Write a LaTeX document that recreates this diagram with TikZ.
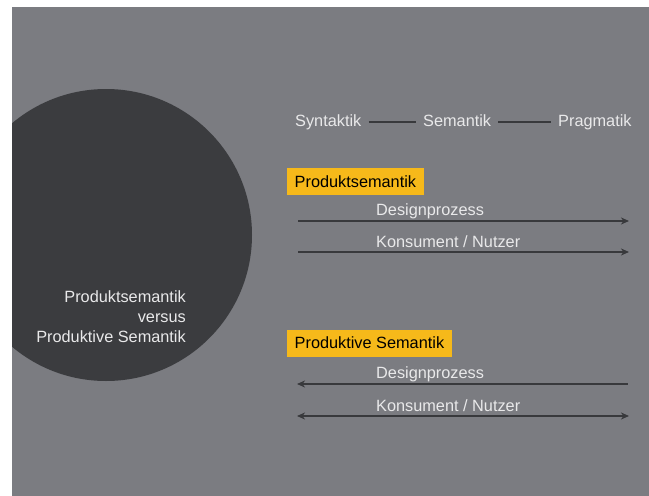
\documentclass[tikz,border=0pt]{standalone}
\usepackage{fontspec}
\setmainfont{Liberation Sans}
\usetikzlibrary{arrows.meta}
\definecolor{slate}{HTML}{7B7C81}
\definecolor{disc}{HTML}{3B3C3F}
\definecolor{pale}{HTML}{E9E9EA}
\definecolor{amber}{HTML}{F6B91A}
\definecolor{ink}{HTML}{38393C}
\begin{document}
\begin{tikzpicture}[x=1pt,y=-1pt,
  lbl/.style={font=\fontsize{16.3}{20}\selectfont, text=pale, inner sep=0pt},
  tag/.style={font=\fontsize{16.3}{18}\selectfont, fill=amber, text=black,
    inner xsep=7.5pt, inner ysep=0pt, minimum height=27pt, anchor=west},
  tie/.style={draw=ink, line width=1.6pt},
  flow/.style={draw=ink, line width=1.5pt},
  tip/.tip={Stealth[length=8pt,width=7pt,inset=2.5pt]}
]
\useasboundingbox (0,0) rectangle (649,496);
\fill[white] (0,0) rectangle (649,496);
\fill[slate] (12,7) rectangle (649,496);
% dark disc, cut off at the panel edge
\begin{scope}
  \clip (12,7) rectangle (649,496);
  \fill[disc] (106,235) circle[radius=146pt];
\end{scope}
\node[lbl, align=right, anchor=east] (title) at (186,317)
  {Produktsemantik\\versus\\Produktive Semantik};

% semiotic chain
\node[lbl, anchor=west, text height=12pt, text depth=3.5pt] (syn) at (295,122) {Syntaktik};
\node[lbl, anchor=west, text height=12pt, text depth=3.5pt] (sem) at (423,122) {Semantik};
\node[lbl, anchor=west, text height=12pt, text depth=3.5pt] (prag) at (558,122) {Pragmatik};
\draw[tie] ([xshift=7pt]syn.east) -- ([xshift=-7pt]sem.west);
\draw[tie] ([xshift=7pt]sem.east) -- ([xshift=-7pt]prag.west);

% Produktsemantik
\node[tag] (ps) at (287,181.5) {Produktsemantik};
\node[lbl, anchor=west] (ps1) at (376,211) {Designprozess};
\node[lbl, anchor=west] (ps2) at (376,242) {Konsument / Nutzer};
\coordinate (ps1a) at (298,221);
\coordinate (ps1b) at (629,221);
\coordinate (ps2a) at (298,252);
\coordinate (ps2b) at (629,252);
\draw[flow, -tip] (ps1a) -- (ps1b);
\draw[flow, -tip] (ps2a) -- (ps2b);

% Produktive Semantik
\node[tag] (pv) at (287,343) {Produktive Semantik};
\node[lbl, anchor=west] (pv1) at (376,374.5) {Designprozess};
\node[lbl, anchor=west] (pv2) at (376,406) {Konsument / Nutzer};
\coordinate (pv1a) at (297,384);
\coordinate (pv1b) at (628,384);
\coordinate (pv2a) at (297,416);
\coordinate (pv2b) at (629,416);
\draw[flow, tip-] (pv1a) -- (pv1b);
\draw[flow, tip-tip] (pv2a) -- (pv2b);
\end{tikzpicture}
\end{document}
